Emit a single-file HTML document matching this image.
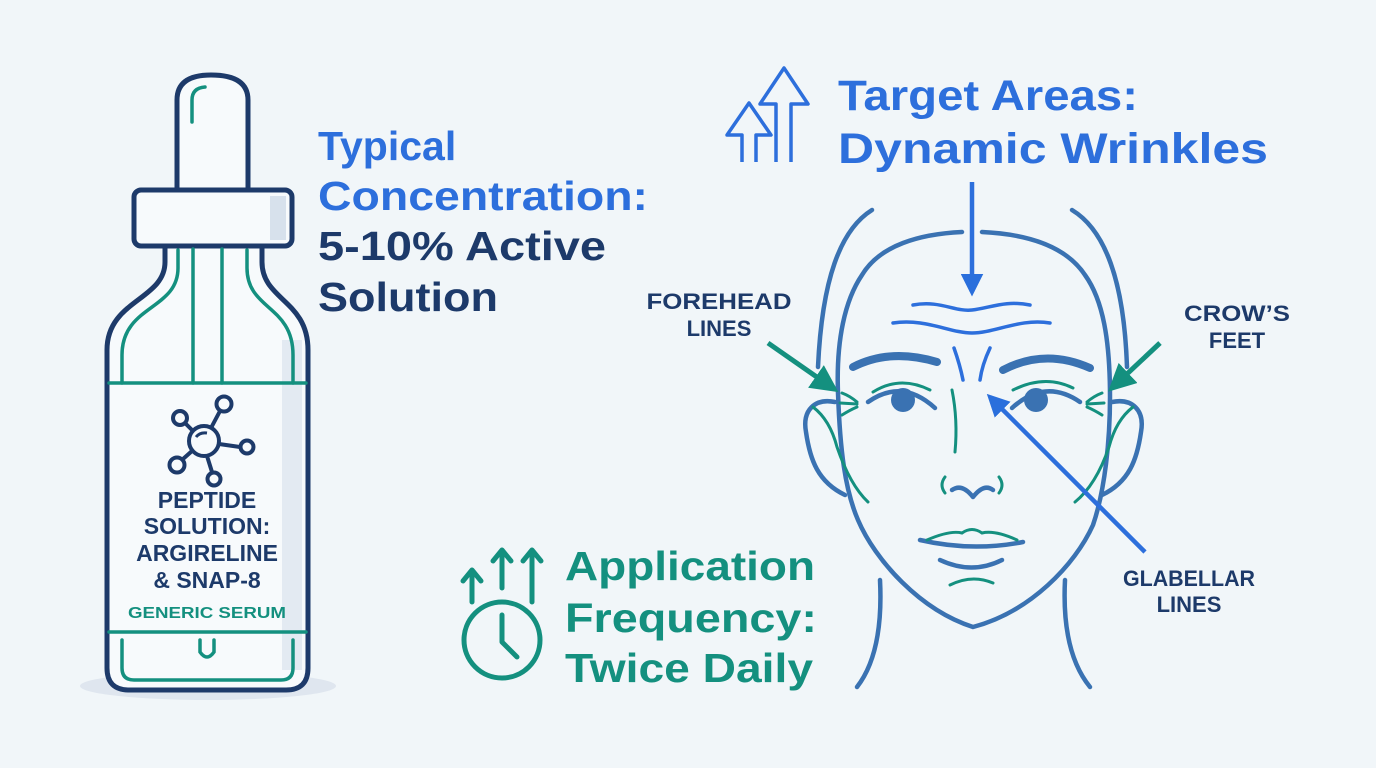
<!DOCTYPE html>
<html><head><meta charset="utf-8"><style>
html,body{margin:0;padding:0;background:#f1f6f9;}
svg{display:block}
text{font-family:"Liberation Sans",Arial,sans-serif;font-weight:bold;}
</style></head><body>
<svg width="1376" height="768" viewBox="0 0 1376 768" xmlns="http://www.w3.org/2000/svg">
<rect width="1376" height="768" fill="#f1f6f9"/>
<defs>
<marker id="hb" viewBox="0 0 10 10" refX="8" refY="5" markerWidth="5" markerHeight="5" orient="auto"><path d="M0,0 L10,5 L0,10 z" fill="#2a6fdc"/></marker>
<marker id="ht" viewBox="0 0 10 10" refX="8" refY="5" markerWidth="5.5" markerHeight="5.5" orient="auto"><path d="M0,0 L10,5 L0,10 z" fill="#14907f"/></marker>
</defs>

<!-- Bottle -->
<ellipse cx="208" cy="686" rx="128" ry="14" fill="#dfe6ef"/>
<g fill="none" stroke="#1d3a6a" stroke-width="5" stroke-linejoin="round">
  <path d="M165,246 L165,262 C165,300 107,300 107,350 L107,668 Q107,690 129,690 L286,690 Q308,690 308,668 L308,350 C308,300 262,300 262,262 L262,246" fill="#f7fafc"/>
  <path d="M177,190 L177,100 Q177,75 211,75 Q248,75 248,100 L248,190" fill="#f7fafc"/>
  <rect x="134" y="190" width="158" height="56" rx="7" fill="#f7fafc"/>
</g>
<rect x="270" y="196" width="16" height="44" fill="#d7e1ec"/>
<rect x="282" y="340" width="20" height="330" fill="#e3eaf2"/>
<g fill="none" stroke="#14907f" stroke-width="3.5" stroke-linecap="round">
  <path d="M192,122 L192,100 Q192,88 205,87"/>
  <path d="M193,249 L193,383 M222,249 L222,383"/>
  <path d="M178,250 L178,268 C178,310 122,305 122,355 L122,383 M247,250 L247,268 C247,310 293,305 293,355 L293,383"/>
  <path d="M109,383 L306,383"/>
  <path d="M109,632 L306,632"/>
  <path d="M122,640 L122,668 Q122,680 134,680 L281,680 Q293,680 293,668 L293,640"/>
  <path d="M200,640 L200,652 Q207,662 214,652 L214,640"/>
</g>
<!-- molecule -->
<g fill="none" stroke="#1d3a6a" stroke-width="4">
  <circle cx="204" cy="441" r="15"/>
  <path d="M196,437 Q200,432 207,433" stroke-width="3"/>
  <circle cx="224" cy="404" r="7.5"/><circle cx="180" cy="418" r="7"/><circle cx="247" cy="447" r="6.5"/><circle cx="177" cy="465" r="7.5"/><circle cx="214" cy="479" r="6.5"/>
  <path d="M211,428 L220,411 M193,431 L185,423 M219,444 L240,447 M192,451 L183,459 M207,456 L212,472"/>
</g>
<g fill="#1d3a6a" font-size="23" text-anchor="middle">
  <text x="207" y="508">PEPTIDE</text>
  <text x="207" y="534">SOLUTION:</text>
  <text x="207" y="561">ARGIRELINE</text>
  <text x="207" y="588">&amp; SNAP-8</text>
</g>
<text x="207" y="618" font-size="16" fill="#14907f" text-anchor="middle" textLength="158" lengthAdjust="spacingAndGlyphs">GENERIC SERUM</text>

<!-- Concentration -->
<g font-size="41">
  <text x="318" y="160" fill="#2d6fdc">Typical</text>
  <text x="318" y="210" fill="#2d6fdc" textLength="330" lengthAdjust="spacingAndGlyphs">Concentration:</text>
  <text x="318" y="260" fill="#1d3a6a" textLength="288" lengthAdjust="spacingAndGlyphs">5-10% Active</text>
  <text x="318" y="311" fill="#1d3a6a" textLength="180" lengthAdjust="spacingAndGlyphs">Solution</text>
</g>

<!-- Target areas -->
<g fill="none" stroke="#2d6fdc" stroke-width="3.5" stroke-linejoin="round">
  <path d="M742,162 L742,135 L727,135 L749,103 L771,135 L756,135 L756,162"/>
  <path d="M776,162 L776,104 L760,104 L784,68 L808,104 L791,104 L791,162"/>
</g>
<g font-size="43" fill="#2d6fdc">
  <text x="838" y="110" textLength="300" lengthAdjust="spacingAndGlyphs">Target Areas:</text>
  <text x="838" y="163" textLength="430" lengthAdjust="spacingAndGlyphs">Dynamic Wrinkles</text>
</g>

<!-- Face -->
<g fill="none" stroke="#3a72b2" stroke-width="4.5" stroke-linecap="round" stroke-linejoin="round">
  <path d="M962,232 C920,234 880,245 862,275 C845,300 836,340 838,393 C840,450 845,490 858,520 C875,560 920,610 973,627 C1030,612 1075,565 1093,525 C1105,490 1110,440 1110,397 C1110,340 1103,300 1085,275 C1065,245 1025,234 982,232"/>
  <path d="M872,210 C840,230 822,280 818,367"/>
  <path d="M1072,210 C1105,230 1124,280 1127,367"/>
  <path d="M835,402 C815,398 802,410 806,432 C810,460 818,482 845,495"/>
  <path d="M1112,402 C1132,398 1145,410 1141,432 C1137,460 1129,482 1102,495"/>
  <path d="M880,580 C882,620 878,660 857,687"/>
  <path d="M1065,580 C1063,620 1068,660 1090,687"/>
  <path d="M952,490 Q962,483 973,497 Q984,483 993,490"/>
  <path d="M920,540 Q972,552 1023,542"/>
  <path d="M940,560 Q972,575 1002,560"/>
  <path d="M868,402 Q902,378 935,408"/>
  <path d="M1012,408 Q1045,378 1080,402"/>
</g>
<g fill="none" stroke="#3a72b2" stroke-width="8" stroke-linecap="round">
  <path d="M853,367 Q890,348 937,362"/>
  <path d="M1003,370 Q1045,348 1090,368"/>
</g>
<circle cx="903" cy="400" r="12" fill="#3a72b2"/>
<circle cx="1036" cy="400" r="12" fill="#3a72b2"/>
<g fill="none" stroke="#2d6fdc" stroke-width="3.5" stroke-linecap="round">
  <path d="M913,305 C940,300 955,312 972,310 C990,308 1005,300 1030,305"/>
  <path d="M893,323 C925,318 950,333 972,333 C995,333 1020,318 1050,323"/>
  <path d="M954,348 Q960,365 963,380"/>
  <path d="M990,348 Q982,365 980,380"/>
</g>
<g fill="none" stroke="#14907f" stroke-width="3" stroke-linecap="round">
  <path d="M873,392 Q900,375 930,390"/>
  <path d="M1013,390 Q1045,374 1073,388"/>
  <path d="M952,390 Q958,420 955,452"/>
  <path d="M945,477 Q939,485 945,493"/>
  <path d="M999,477 Q1005,485 999,493"/>
  <path d="M927,540 Q950,530 962,533 Q972,526 982,533 Q995,530 1017,540"/>
  <path d="M950,585 Q972,574 993,583"/>
  <path d="M842,393 Q850,396 857,402 M840,403 L857,404 M842,415 Q850,410 857,407"/>
  <path d="M1102,393 Q1094,396 1087,402 M1104,403 L1087,404 M1102,415 Q1094,410 1087,407"/>
  <path d="M813,407 Q830,420 837,447 Q850,485 868,502"/>
  <path d="M1133,407 Q1116,420 1109,447 Q1096,485 1075,502"/>
</g>

<!-- Arrows -->
<line x1="972" y1="182" x2="972" y2="292" stroke="#2d6fdc" stroke-width="4.5" marker-end="url(#hb)"/>
<line x1="1145" y1="552" x2="990" y2="397" stroke="#2d6fdc" stroke-width="4.5" marker-end="url(#hb)"/>
<line x1="768" y1="343" x2="834" y2="389" stroke="#14907f" stroke-width="5" marker-end="url(#ht)"/>
<line x1="1160" y1="343" x2="1112" y2="388" stroke="#14907f" stroke-width="5" marker-end="url(#ht)"/>

<g fill="#1d3a6a" font-size="22" text-anchor="middle">
  <text x="719" y="309" textLength="145" lengthAdjust="spacingAndGlyphs">FOREHEAD</text>
  <text x="719" y="336">LINES</text>
  <text x="1237" y="321" textLength="106" lengthAdjust="spacingAndGlyphs">CROW’S</text>
  <text x="1237" y="348">FEET</text>
  <text x="1189" y="586" textLength="132" lengthAdjust="spacingAndGlyphs">GLABELLAR</text>
  <text x="1189" y="612">LINES</text>
</g>

<!-- Application frequency -->
<g fill="none" stroke="#14907f" stroke-width="5" stroke-linecap="round" stroke-linejoin="round">
  <circle cx="502" cy="640" r="38"/>
  <path d="M502,615 L502,642 L517,657"/>
  <path d="M472,602 L472,572 M463,581 L472,570 L481,581"/>
  <path d="M502,588 L502,552 M493,561 L502,550 L511,561"/>
  <path d="M532,602 L532,552 M523,561 L532,550 L541,561"/>
</g>
<g font-size="41" fill="#14907f">
  <text x="565" y="580" textLength="250" lengthAdjust="spacingAndGlyphs">Application</text>
  <text x="565" y="632" textLength="252" lengthAdjust="spacingAndGlyphs">Frequency:</text>
  <text x="565" y="682" textLength="248" lengthAdjust="spacingAndGlyphs">Twice Daily</text>
</g>
</svg>
</body></html>
